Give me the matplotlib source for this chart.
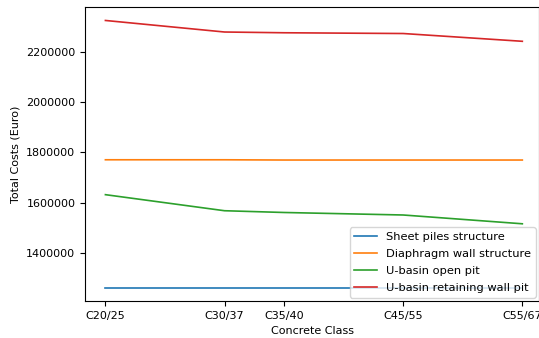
import matplotlib.pyplot as plt

# concrete strength classes (numeric position = characteristic cylinder strength)
class_pos = [20, 30, 35, 45, 55]
class_labels = ['C20/25', 'C30/37', 'C35/40', 'C45/55', 'C55/67']

sheet_piles = [1261000, 1261000, 1261000, 1261000, 1261000]
diaphragm_wall = [1771000, 1771000, 1770000, 1770000, 1770000]
u_basin_open = [1632000, 1568000, 1561000, 1551000, 1516000]
u_basin_retaining = [2326000, 2280000, 2277000, 2274000, 2243000]

fig = plt.figure(figsize=(5.39, 3.38), dpi=100)
ax = fig.add_axes([0.158, 0.109, 0.842, 0.870])

ax.plot(class_pos, sheet_piles, color='#1f77b4', lw=1.2, label='Sheet piles structure')
ax.plot(class_pos, diaphragm_wall, color='#ff7f0e', lw=1.2, label='Diaphragm wall structure')
ax.plot(class_pos, u_basin_open, color='#2ca02c', lw=1.2, label='U-basin open pit')
ax.plot(class_pos, u_basin_retaining, color='#d62728', lw=1.2, label='U-basin retaining wall pit')

ax.set_xticks(class_pos)
ax.set_xticklabels(class_labels)
ax.set_xlim(18.3, 56.4)
ax.ticklabel_format(axis='y', style='plain', useOffset=False)
ax.tick_params(labelsize=8)
ax.set_xlabel('Concrete Class', fontsize=8)
ax.set_ylabel('Total Costs (Euro)', fontsize=8)
ax.legend(loc='lower right', fontsize=8.2, labelspacing=0.62, borderaxespad=0.3,
          handlelength=2.0)

plt.savefig('out.png', dpi=100)
